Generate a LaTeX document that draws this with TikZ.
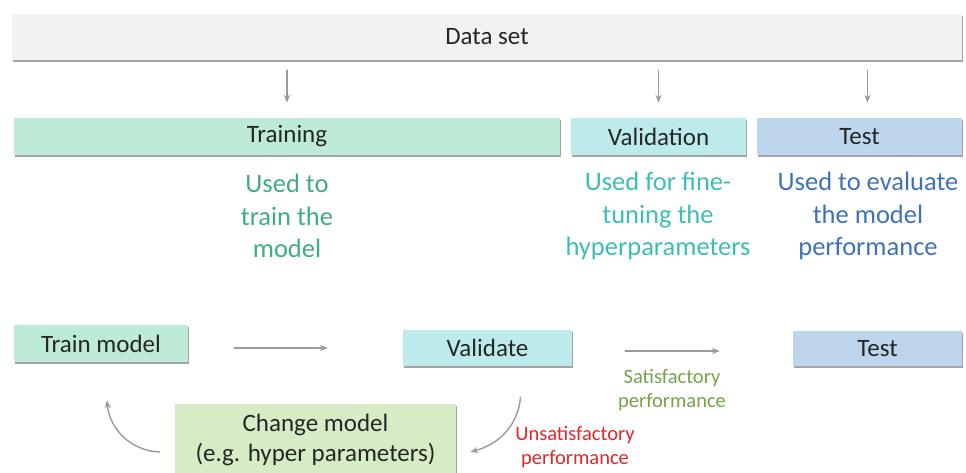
\documentclass[tikz,border=0pt]{standalone}
\usepackage{fontspec}
\setmainfont{Carlito}
\usetikzlibrary{shadows,arrows.meta}
\definecolor{txtdark}{HTML}{262626}
\definecolor{arrgray}{HTML}{9A9A9A}
\definecolor{setfill}{HTML}{F2F2F2}
\definecolor{trfill}{HTML}{BEEBD6}
\definecolor{vafill}{HTML}{BDEBEB}
\definecolor{tefill}{HTML}{BDD5ED}
\definecolor{chfill}{HTML}{D5ECC5}
\definecolor{trtext}{HTML}{3FAE7F}
\definecolor{vatext}{HTML}{3DBDB5}
\definecolor{tetext}{HTML}{3E72B6}
\definecolor{oktext}{HTML}{74A34A}
\definecolor{badtext}{HTML}{E0262B}
\begin{document}
\begin{tikzpicture}[x=1pt, y=1pt, line join=round, line cap=round, >={Stealth[length=8pt,width=6pt]}]
	\tikzset{
		box/.style={fill=#1, text=txtdark, inner sep=0pt, font=\fontsize{25}{30}\selectfont,
			drop shadow={shadow xshift=0.6pt, shadow yshift=-2.2pt, fill=black!45, opacity=0.8}},
		arr/.style={->, draw=arrgray, line width=1.4pt},
		note/.style={align=center, font=\fontsize{26.5}{32.5}\selectfont},
		small/.style={align=center, font=\fontsize{20.5}{24}\selectfont},
	}
	\useasboundingbox (0,0) rectangle (966,-473);
	% top bar and the three parts
	\node[box=setfill, minimum width=950pt, minimum height=46pt] (data) at (487,-37) {Data set};
	\node[box=trfill, minimum width=546pt, minimum height=37pt] (training) at (287,-136.5) {Training};
	\node[box=vafill, minimum width=175pt, minimum height=37pt] (validation) at (658.5,-136.5) {Validation};
	\node[box=tefill, minimum width=205pt, minimum height=37pt] (test) at (859.5,-136.5) {Test};
	\draw[arr, shorten <=10pt, shorten >=15pt] (training.north |- data.south) -- (training.north);
	\draw[arr, shorten <=10pt, shorten >=15pt] (validation.north |- data.south) -- (validation.north);
	\draw[arr, shorten <=10pt, shorten >=15pt] ([xshift=8pt]test.north |- data.south) -- ([xshift=8pt]test.north);
	% what each part is for
	\node[note, text=trtext] (trnote) at (287,-216) {Used to\\train the\\model};
	\node[note, text=vatext] (vanote) at (658,-216) {Used for fine-\\tuning the\\hyperparameters};
	\node[note, text=tetext] (tenote) at (868,-216) {Used to evaluate\\the model\\performance};
	% workflow
	\node[box=trfill, minimum width=174pt, minimum height=37pt] (trainm) at (101,-343.5) {Train model};
	\node[box=vafill, minimum width=169pt, minimum height=36pt] (validate) at (487.5,-348) {Validate};
	\node[box=tefill, minimum width=169pt, minimum height=35pt] (testm) at (877.5,-348.5) {Test};
	\node[box=chfill, minimum width=281pt, minimum height=72pt, align=center] (change) at (315.5,-440) {Change model\\(e.g. hyper parameters)};
	\draw[arr, shorten <=46pt, shorten >=75pt] (trainm.east |- validate.west) -- (validate.west);
	\draw[arr, shorten <=53pt, shorten >=73pt] ([yshift=-3pt]validate.east) -- ([yshift=-3pt]validate.east -| testm.west);
	\node[small, text=oktext] (ok) at (672,-390) {Satisfactory\\performance};
	\draw[arr] ([xshift=33pt,yshift=-31pt]validate.south) to[out=-95, in=15] ([xshift=14pt,yshift=-12pt]change.east);
	\node[small, text=badtext] (bad) at (575,-447) {Unsatisfactory\\performance};
	\draw[arr] ([xshift=-15pt,yshift=-12pt]change.west) to[out=178, in=-85] ([xshift=6pt,yshift=-38pt]trainm.south);
\end{tikzpicture}
\end{document}
